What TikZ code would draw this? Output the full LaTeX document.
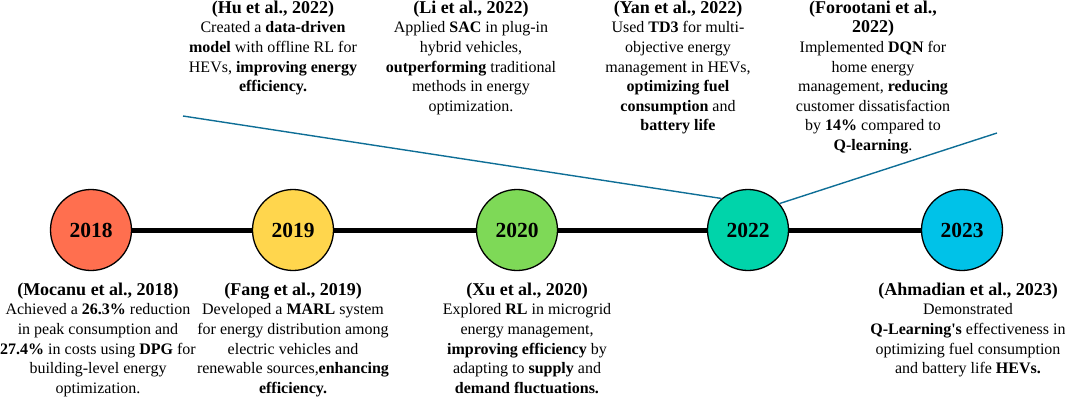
\documentclass[tikz,border=0pt]{standalone}
\usepackage{fontspec}
\setmainfont{Liberation Serif}
\definecolor{c18}{HTML}{FF6F4F}
\definecolor{c19}{HTML}{FFD64D}
\definecolor{c20}{HTML}{7ED957}
\definecolor{c22}{HTML}{00D4AA}
\definecolor{c23}{HTML}{00C2E8}
\definecolor{linkblue}{HTML}{0E6E96}
\newcommand\ttl[1]{{\fontsize{18}{19.6}\selectfont\bfseries #1}}
\tikzset{
  year/.style={circle, draw=black, line width=1.3pt, minimum size=81pt, inner sep=0pt,
    font=\fontsize{21.5}{24}\selectfont\bfseries},
  desc/.style={align=center, anchor=north, inner sep=0pt,
    font=\fontsize{16}{19.6}\selectfont},
  timeline/.style={line width=5pt, black},
  link/.style={linkblue, line width=1.4pt},
}
\begin{document}
\begin{tikzpicture}[x=1pt, y=-1pt]
\useasboundingbox (0,0) rectangle (1065,397);
% year circles
\node[year, fill=c18] (c18) at (91,230) {2018};
\node[year, fill=c19] (c19) at (293,230) {2019};
\node[year, fill=c20] (c20) at (517,230) {2020};
\node[year, fill=c22] (c22) at (748,230) {2022};
\node[year, fill=c23] (c23) at (962,230) {2023};
% timeline
\draw[timeline] (c18) -- (c19);
\draw[timeline] (c19) -- (c20);
\draw[timeline] (c20) -- (c22);
\draw[timeline] (c22) -- (c23);
% connectors
\coordinate (huend) at (183,116);
\coordinate (forend) at (997,133);
\draw[link] (huend) -- (c22.130);
\draw[link] (forend) -- (c22.40);
% top texts
\node[desc] (hu) at (273,0.6) {\ttl{(Hu et al., 2022)}\\
  Created a \textbf{data-driven}\\
  \textbf{model} with offline RL for\\
  HEVs, \textbf{improving energy}\\
  \textbf{efficiency.}};
\node[desc] (li) at (471,0.6) {\ttl{(Li et al., 2022)}\\
  Applied \textbf{SAC} in plug-in\\
  hybrid vehicles,\\
  \textbf{outperforming} traditional\\
  methods in energy\\
  optimization.};
\node[desc] (yan) at (678,0.6) {\ttl{(Yan et al., 2022)}\\
  Used \textbf{TD3} for multi-\\
  objective energy\\
  management in HEVs,\\
  \textbf{optimizing fuel}\\
  \textbf{consumption} and\\
  \textbf{battery life}};
\node[desc] (foro) at (873,0.6) {\ttl{(Forootani et al.,}\\
  \ttl{2022)}\\
  Implemented \textbf{DQN} for\\
  home energy\\
  management, \textbf{reducing}\\
  customer dissatisfaction\\
  by \textbf{14\%} compared to\\
  \textbf{Q-learning}.};
% bottom texts
\node[desc] (mocanu) at (98,282.6) {\ttl{(Mocanu et al., 2018)}\\
  Achieved a \textbf{26.3\%} reduction\\
  in peak consumption and\\
  \textbf{27.4\%} in costs using \textbf{DPG} for\\
  building-level energy\\
  optimization.};
\node[desc] (fang) at (293,282.6) {\ttl{(Fang et al., 2019)}\\
  Developed a \textbf{MARL} system\\
  for energy distribution among\\
  electric vehicles and\\
  renewable sources,\textbf{enhancing}\\
  \textbf{efficiency.}};
\node[desc] (xu) at (527,282.6) {\ttl{(Xu et al., 2020)}\\
  Explored \textbf{RL} in microgrid\\
  energy management,\\
  \textbf{improving efficiency} by\\
  adapting to \textbf{supply} and\\
  \textbf{demand fluctuations.}};
\node[desc] (ahmad) at (968,282.6) {\ttl{(Ahmadian et al., 2023)}\\
  Demonstrated\\
  \textbf{Q-Learning\textquotesingle s} effectiveness in\\
  optimizing fuel consumption\\
  and battery life \textbf{HEVs.}};
\end{tikzpicture}
\end{document}
